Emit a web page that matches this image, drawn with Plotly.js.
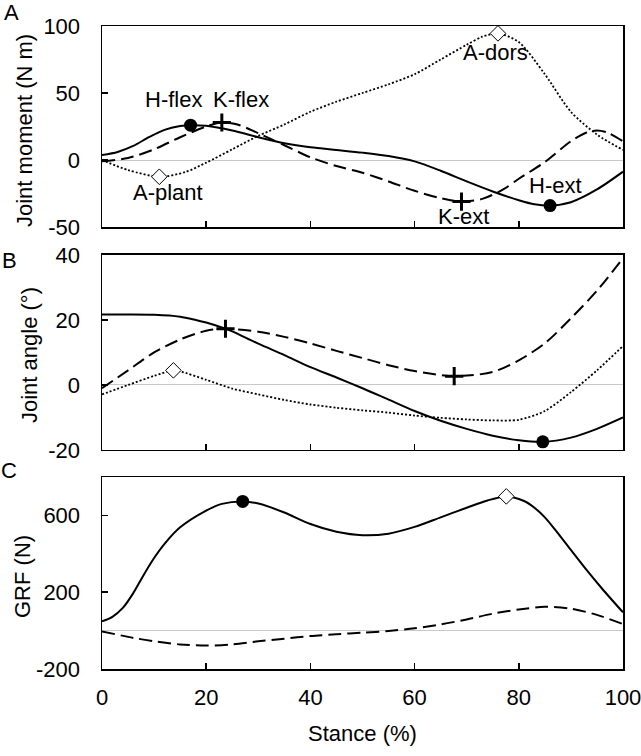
<!DOCTYPE html>
<html>
<head>
<meta charset="utf-8">
<script src="https://cdn.plot.ly/plotly-3.0.1.min.js"></script>
<style>html,body{margin:0;padding:0;background:#fff;}#chart{width:641px;height:756px;}</style>
</head>
<body>
<div id="chart"></div>
<script>
// ---- Panel A: joint moment (N m) ----
const momHipX   = [0, 3, 6, 9, 12, 15, 17, 20, 25, 30, 35, 40, 45, 50, 55, 60, 65, 70, 75, 80, 83, 86, 90, 95, 100];
const momHipY   = [3.7, 6, 10.5, 17, 22.5, 25.3, 26, 25.5, 22, 17, 12.5, 9.5, 7.5, 5.5, 3, -1, -8, -16, -23.5, -30, -33, -34, -31.5, -22, -8.7];
const momKneeX  = [0, 5, 10, 15, 20, 23, 26, 30, 35, 40, 45, 50, 55, 60, 65, 69, 73, 77, 80, 85, 90, 93, 95, 97, 100];
const momKneeY  = [-1, 1.5, 8, 17, 25, 28, 26.5, 20, 11, 2, -4.5, -9.5, -16, -23, -28.5, -31, -29, -22, -14, -1.5, 14, 20.5, 22, 20.5, 14];
const momAnkX   = [0, 5, 11, 16, 20, 25, 30, 35, 40, 45, 50, 55, 60, 65, 70, 73, 76, 80, 85, 90, 95, 100];
const momAnkY   = [0, -7.5, -12.5, -9, -2, 8, 18, 26.5, 36, 43.5, 50, 56.5, 64, 75, 86, 92, 94.5, 88, 64, 36, 19, 7.5];

// ---- Panel B: joint angle (deg) ----
const angHipX   = [0, 5, 10, 15, 18, 20, 23.7, 25, 30, 35, 40, 45, 50, 55, 60, 65, 70, 75, 80, 84.6, 90, 95, 100];
const angHipY   = [21.7, 21.7, 21.6, 21, 20, 19.2, 17.3, 16.5, 12.7, 9.2, 5.5, 2.3, -1, -4.5, -8, -11, -13.5, -15.6, -17, -17.5, -16.2, -13.5, -10];
const angKneeX  = [0, 5, 10, 15, 20, 23.7, 30, 35, 40, 45, 50, 55, 60, 67.6, 75, 80, 85, 90, 95, 100];
const angKneeY  = [-1, 4.5, 10, 14, 16.7, 17.3, 16.4, 14.8, 12.8, 10.5, 8.3, 6.1, 4.3, 2.7, 4, 7.6, 12.8, 20.5, 29, 39];
const angAnkX   = [0, 5, 10, 13.7, 15, 20, 25, 30, 35, 40, 45, 50, 55, 60, 65, 70, 75, 80, 85, 90, 95, 100];
const angAnkY   = [-2.9, 0, 2.8, 4.5, 4.2, 1.6, -1.1, -2.9, -4.6, -6, -7, -7.8, -8.5, -9.4, -10.1, -10.6, -10.9, -10.7, -8, -2.2, 4.5, 12];

// ---- Panel C: ground reaction force (N) ----
const grfVertX  = [0, 2, 4, 6, 8, 10, 12, 15, 20, 23, 27, 30, 35, 40, 45, 50, 55, 60, 65, 70, 74, 77.6, 81, 83, 85, 87, 90, 93, 96, 100];
const grfVertY  = [48, 72, 118, 195, 290, 378, 452, 538, 625, 660, 673, 662, 615, 555, 515, 497, 505, 540, 590, 640, 678, 699, 675, 640, 590, 525, 420, 316, 218, 95];
const grfHorX   = [0, 6, 10, 15, 20, 25, 30, 35, 40, 45, 50, 55, 60, 65, 70, 75, 80, 85, 90, 95, 100];
const grfHorY   = [-4, -38, -55, -72, -78, -72, -56, -42, -28, -19, -11, -2, 12, 32, 58, 88, 110, 124, 114, 82, 34];

// ---- event markers ----
const evA = {hipX:[17, 86], hipY:[26, -34], kneeX:[23, 69], kneeY:[28, -31], ankX:[11, 76], ankY:[-12.5, 94.5]};
const evB = {hipX:[84.6], hipY:[-17.5], kneeX:[23.7, 67.6], kneeY:[17.3, 2.7], ankX:[13.7], ankY:[4.5]};
const evC = {vertX:[27], vertY:[673], vert2X:[77.6], vert2Y:[699]};

const eventLabels = [
  {t:'H-flex', x:13.8, y:44.8}, {t:'K-flex', x:26.6, y:44.8},
  {t:'A-plant', x:12.6, y:-24.6}, {t:'A-dors', x:75.6, y:79.9},
  {t:'H-ext', x:87.1, y:-18.7}, {t:'K-ext', x:69.3, y:-42.5}
];
const xTicks = [0, 20, 40, 60, 80, 100];
const xTickText = ['0', '20', '40', '60', '80', '100'];
const yTicksA = [-50, 0, 50, 100];   const yTextA = ['-50', '0', '50', '100'];
const yTicksB = [-20, 0, 20, 40];    const yTextB = ['-20', '0', '20', '40'];
const yTicksC = [-200, 200, 600];    const yTextC = ['-200', '200', '600'];
const yTitles = [
  {t:'Joint moment (N m)', px:24, py:131},
  {t:'Joint angle (°)', px:29, py:355},
  {t:'GRF (N)', px:22, py:577}
];
const panelLetters = [{t:'A', px:11, py:13}, {t:'B', px:9, py:260}, {t:'C', px:9, py:470}];

const SOLID = {color:'#000', width:2, shape:'spline', smoothing:0.8};
const DASH  = {color:'#000', width:2, shape:'spline', smoothing:0.8, dash:'13px,6px'};
const DOT   = {color:'#000', width:1.8, shape:'spline', smoothing:0.8, dash:'2px,2px'};

function line(x, y, ln, xa, ya){ return {x:x, y:y, mode:'lines', line:ln, xaxis:xa, yaxis:ya, hoverinfo:'skip', showlegend:false}; }
const CIRC  = {symbol:'circle', size:13, color:'#000'};
const PLUS  = {symbol:'cross-thin', size:13, color:'#000', line:{color:'#000', width:3}};
const DIAM  = {symbol:'diamond', size:12, color:'#fff', line:{color:'#000', width:1}};
function mk(x, y, m, xa, ya){ return {x:x, y:y, mode:'markers', marker:m, xaxis:xa, yaxis:ya, hoverinfo:'skip', showlegend:false, cliponaxis:false}; }

const data = [
  line(momHipX, momHipY, SOLID, 'x', 'y'),
  line(momKneeX, momKneeY, DASH, 'x', 'y'),
  line(momAnkX, momAnkY, DOT, 'x', 'y'),
  mk(evA.hipX, evA.hipY, CIRC, 'x', 'y'),
  mk(evA.kneeX, evA.kneeY, PLUS, 'x', 'y'),
  mk(evA.ankX, evA.ankY, DIAM, 'x', 'y'),

  line(angHipX, angHipY, SOLID, 'x2', 'y2'),
  line(angKneeX, angKneeY, DASH, 'x2', 'y2'),
  line(angAnkX, angAnkY, DOT, 'x2', 'y2'),
  mk(evB.hipX, evB.hipY, CIRC, 'x2', 'y2'),
  mk(evB.kneeX, evB.kneeY, PLUS, 'x2', 'y2'),
  mk(evB.ankX, evB.ankY, DIAM, 'x2', 'y2'),

  line(grfVertX, grfVertY, SOLID, 'x3', 'y3'),
  line(grfHorX, grfHorY, DASH, 'x3', 'y3'),
  mk(evC.vertX, evC.vertY, CIRC, 'x3', 'y3'),
  mk(evC.vert2X, evC.vert2Y, DIAM, 'x3', 'y3')
];

const FONT = {family:'"Liberation Sans", Arial, sans-serif', size:22, color:'#000'};
const M = {l:102, r:18, t:26, b:87};
const PW = 641 - M.l - M.r, PH = 756 - M.t - M.b;
const px2x = px => (px - M.l) / PW;
const py2y = py => (756 - M.b - py) / PH;

function xax(anchor, labels){
  return {anchor:anchor, range:[0,100], tickvals:xTicks, ticktext:xTickText, ticks:'inside', ticklen:6, tickwidth:1.5, tickcolor:'#000',
    showticklabels:labels, showline:true, mirror:true, linecolor:'#000', linewidth:1.5, showgrid:false, zeroline:false,
    tickfont:FONT, ticklabelstandoff:8, ticklabeloverflow:'allow', fixedrange:true};
}
function yax(anchor, dom, range, tv, tt){
  return {anchor:anchor, domain:dom, range:range, tickvals:tv, ticktext:tt, ticks:'inside', ticklen:6, tickwidth:1.5, tickcolor:'#000',
    showline:true, mirror:true, linecolor:'#000', linewidth:1.5, showgrid:false,
    zeroline:true, zerolinecolor:'#c8c8c8', zerolinewidth:1,
    tickfont:FONT, ticklabelstandoff:16, ticklabeloverflow:'allow', fixedrange:true};
}

const layout = {
  width:641, height:756, paper_bgcolor:'#fff', plot_bgcolor:'#fff',
  margin:M, font:FONT, showlegend:false,
  xaxis:  Object.assign(xax('y', false), {domain:[0,1]}),
  xaxis2: Object.assign(xax('y2', false), {domain:[0,1]}),
  xaxis3: Object.assign(xax('y3', true), {domain:[0,1], title:{text:'Stance (%)', font:FONT, standoff:16}}),
  yaxis:  yax('x',  [0.6874, 1],      [-50, 100], yTicksA, yTextA),
  yaxis2: yax('x2', [0.3406, 0.6439], [-20, 40], yTicksB, yTextB),
  yaxis3: yax('x3', [0, 0.2986],      [-200, 800], yTicksC, yTextC),
  annotations: eventLabels.map(a => ({text:a.t, x:a.x, y:a.y, xref:'x', yref:'y', showarrow:false, font:FONT,
      xanchor:'center', yanchor:'middle'}))
    .concat(yTitles.map(a => ({text:a.t, x:px2x(a.px), y:py2y(a.py), xref:'paper', yref:'paper', showarrow:false,
      font:FONT, textangle:-90, xanchor:'center', yanchor:'middle'})))
    .concat(panelLetters.map(a => ({text:a.t, x:px2x(a.px), y:py2y(a.py), xref:'paper', yref:'paper', showarrow:false,
      font:FONT, xanchor:'center', yanchor:'middle'})))
};

Plotly.newPlot('chart', data, layout, {staticPlot:true, displayModeBar:false});
</script>
</body>
</html>
